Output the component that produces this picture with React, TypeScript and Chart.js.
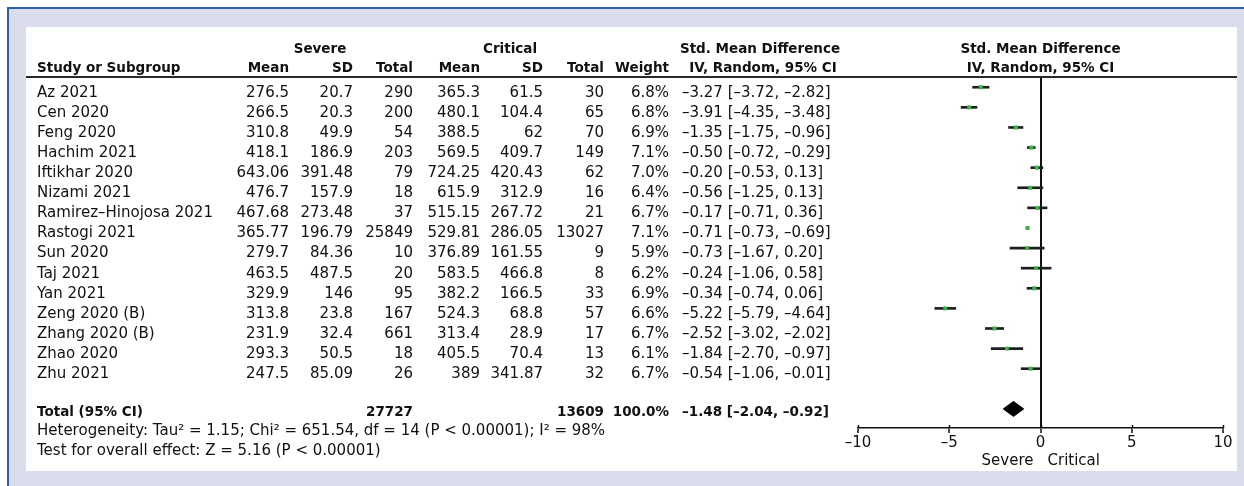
import React, { useEffect, useRef } from 'react';
import { Chart, registerables } from 'chart.js';

Chart.register(...registerables);

// ---------- data ----------
const studies = [
  'Az 2021', 'Cen 2020', 'Feng 2020', 'Hachim 2021', 'Iftikhar 2020', 'Nizami 2021',
  'Ramirez–Hinojosa 2021', 'Rastogi 2021', 'Sun 2020', 'Taj 2021', 'Yan 2021',
  'Zeng 2020 (B)', 'Zhang 2020 (B)', 'Zhao 2020', 'Zhu 2021',
];
const severeMean = [276.5, 266.5, 310.8, 418.1, 643.06, 476.7, 467.68, 365.77, 279.7, 463.5, 329.9, 313.8, 231.9, 293.3, 247.5];
const severeSD = [20.7, 20.3, 49.9, 186.9, 391.48, 157.9, 273.48, 196.79, 84.36, 487.5, 146, 23.8, 32.4, 50.5, 85.09];
const severeTotal = [290, 200, 54, 203, 79, 18, 37, 25849, 10, 20, 95, 167, 661, 18, 26];
const criticalMean = [365.3, 480.1, 388.5, 569.5, 724.25, 615.9, 515.15, 529.81, 376.89, 583.5, 382.2, 524.3, 313.4, 405.5, 389];
const criticalSD = [61.5, 104.4, 62, 409.7, 420.43, 312.9, 267.72, 286.05, 161.55, 466.8, 166.5, 68.8, 28.9, 70.4, 341.87];
const criticalTotal = [30, 65, 70, 149, 62, 16, 21, 13027, 9, 8, 33, 57, 17, 13, 32];
const weights = [6.8, 6.8, 6.9, 7.1, 7.0, 6.4, 6.7, 7.1, 5.9, 6.2, 6.9, 6.6, 6.7, 6.1, 6.7];
const smd = [-3.27, -3.91, -1.35, -0.5, -0.2, -0.56, -0.17, -0.71, -0.73, -0.24, -0.34, -5.22, -2.52, -1.84, -0.54];
const ciLow = [-3.72, -4.35, -1.75, -0.72, -0.53, -1.25, -0.71, -0.73, -1.67, -1.06, -0.74, -5.79, -3.02, -2.7, -1.06];
const ciHigh = [-2.82, -3.48, -0.96, -0.29, 0.13, 0.13, 0.36, -0.69, 0.2, 0.58, 0.06, -4.64, -2.02, -0.97, -0.01];

const totalSevere = 27727;
const totalCritical = 13609;
const totalWeight = 100.0;
const totalSmd = -1.48;
const totalLow = -2.04;
const totalHigh = -0.92;

const xTickValues = [-10, -5, 0, 5, 10];
const heterogeneityText = 'Heterogeneity: Tau² = 1.15; Chi² = 651.54, df = 14 (P < 0.00001); I² = 98%';
const overallText = 'Test for overall effect: Z = 5.16 (P < 0.00001)';

// ---------- styles ----------
const FAMILY = '"DejaVu Sans", sans-serif';
const REG = `15px ${FAMILY}`;
const BOLD = `bold 13.5px ${FAMILY}`;
const INK = '#111111';
const GREEN = '#3cb44a';
const TOTAL_ROW = studies.length + 1;

const neg = (s: string) => s.replace(/-/g, '–');
const f2 = (v: number) => neg(v.toFixed(2));
const ciText = (e: number, l: number, h: number) => `${f2(e)} [${f2(l)}, ${f2(h)}]`;

export default function App() {
  const ref = useRef<HTMLCanvasElement | null>(null);

  useEffect(() => {
    const canvas = ref.current;
    if (!canvas) return;

    const tablePlugin = {
      id: 'forestTable',
      afterDraw(chart: any) {
        const { ctx, scales } = chart;
        const xs = scales.x;
        const ys = scales.y;
        const x0 = xs.getPixelForValue(0);
        const put = (s: string, x: number, y: number, align: CanvasTextAlign, bold = false) => {
          ctx.font = bold ? BOLD : REG;
          ctx.textAlign = align;
          ctx.textBaseline = 'alphabetic';
          ctx.fillStyle = INK;
          ctx.fillText(s, x, y);
        };
        ctx.save();
        // header
        const h1 = 52.5;
        const h2 = 72;
        put('Severe', 320, h1, 'center', true);
        put('Critical', 510, h1, 'center', true);
        put('Std. Mean Difference', 760, h1, 'center', true);
        put('Std. Mean Difference', x0, h1, 'center', true);
        put('Study or Subgroup', 37, h2, 'left', true);
        put('Mean', 289, h2, 'right', true);
        put('SD', 353, h2, 'right', true);
        put('Total', 413, h2, 'right', true);
        put('Mean', 480, h2, 'right', true);
        put('SD', 543, h2, 'right', true);
        put('Total', 604, h2, 'right', true);
        put('Weight', 669, h2, 'right', true);
        put('IV, Random, 95% CI', 763, h2, 'center', true);
        put('IV, Random, 95% CI', x0, h2, 'center', true);
        // header rule
        ctx.fillStyle = '#2a2a2a';
        ctx.fillRect(26, ys.top - 1, 1211, 2);
        // rows
        studies.forEach((name, i) => {
          const y = ys.getPixelForValue(i) + 9.4;
          put(name, 37, y, 'left');
          put(String(severeMean[i]), 289, y, 'right');
          put(String(severeSD[i]), 353, y, 'right');
          put(String(severeTotal[i]), 413, y, 'right');
          put(String(criticalMean[i]), 480, y, 'right');
          put(String(criticalSD[i]), 543, y, 'right');
          put(String(criticalTotal[i]), 604, y, 'right');
          put(`${weights[i].toFixed(1)}%`, 669, y, 'right');
          put(ciText(smd[i], ciLow[i], ciHigh[i]), 682, y, 'left');
        });
        // total row
        const yt = ys.getPixelForValue(TOTAL_ROW) + 7;
        put('Total (95% CI)', 37, yt, 'left', true);
        put(String(totalSevere), 413, yt, 'right', true);
        put(String(totalCritical), 604, yt, 'right', true);
        put(`${totalWeight.toFixed(1)}%`, 669, yt, 'right', true);
        put(ciText(totalSmd, totalLow, totalHigh), 682, yt, 'left', true);
        // footnotes
        put(heterogeneityText, 37, 434.5, 'left');
        put(overallText, 37, 454.5, 'left');
        // small tick stubs above the axis line
        ctx.strokeStyle = INK;
        ctx.lineWidth = 1.5;
        xTickValues.forEach((v) => {
          const px = Math.round(xs.getPixelForValue(v)) + 0.5;
          ctx.beginPath();
          ctx.moveTo(px, ys.bottom - 3);
          ctx.lineTo(px, ys.bottom);
          ctx.stroke();
        });
        // favours labels
        put('Severe', x0 - 7, 465, 'right');
        put('Critical', x0 + 7, 465, 'left');
        ctx.restore();
      },
    };

    const diamondHalf = 0.373;
    const chart = new Chart(canvas, {
      type: 'scatter',
      data: {
        datasets: [
          {
            type: 'scatter',
            order: 0,
            data: smd.map((v, i) => ({ x: v, y: i })),
            pointStyle: 'rect',
            pointRadius: weights.map((w) => 2.9 * Math.sqrt(w / 7)),
            pointHoverRadius: weights.map((w) => 2.9 * Math.sqrt(w / 7)),
            backgroundColor: GREEN,
            borderColor: GREEN,
            borderWidth: 0,
          } as any,
          {
            type: 'bar',
            order: 1,
            indexAxis: 'y',
            data: studies.map((_, i) => ({ y: i, x: [ciLow[i], ciHigh[i]] })),
            backgroundColor: '#1e1e1e',
            borderWidth: 0,
            barThickness: 2,
            borderSkipped: false,
          } as any,
          {
            type: 'line',
            order: 2,
            data: [
              { x: totalLow, y: TOTAL_ROW },
              { x: totalSmd, y: TOTAL_ROW - diamondHalf },
              { x: totalHigh, y: TOTAL_ROW },
              { x: totalSmd, y: TOTAL_ROW + diamondHalf },
              { x: totalLow, y: TOTAL_ROW },
            ],
            fill: 'shape',
            backgroundColor: '#000',
            borderColor: '#000',
            borderWidth: 1,
            pointRadius: 0,
            tension: 0,
          } as any,
        ],
      },
      options: {
        animation: false,
        responsive: false,
        maintainAspectRatio: false,
        events: [],
        layout: { padding: { left: 858, right: 21, top: 77, bottom: 8 } },
        plugins: { legend: { display: false }, tooltip: { enabled: false } },
        scales: {
          x: {
            type: 'linear',
            position: 'bottom',
            min: -10,
            max: 10,
            offset: false,
            afterBuildTicks: (s: any) => {
              s.ticks = xTickValues.map((v) => ({ value: v }));
            },
            afterFit: (s: any) => {
              s.height = 50;
            },
            ticks: {
              autoSkip: false,
              maxRotation: 0,
              padding: 1.5,
              color: INK,
              font: { family: FAMILY, size: 15 },
              callback: (v: any) => neg(String(v)),
            },
            grid: {
              offset: false,
              drawOnChartArea: true,
              color: (c: any) => (c.tick && c.tick.value === 0 ? INK : 'rgba(0,0,0,0)'),
              lineWidth: 2,
              tickLength: 5,
              tickColor: INK,
              tickWidth: 1.5,
            },
            border: { display: true, color: INK, width: 1.5 },
          },
          y: {
            type: 'linear',
            min: -0.51,
            max: 16.95,
            reverse: true,
            offset: false,
            grid: { offset: false },
            display: false,
          },
        },
      } as any,
      plugins: [tablePlugin],
    });

    return () => chart.destroy();
  }, []);

  return (
    <div style={{ position: 'absolute', left: 0, top: 0, width: 1244, height: 486, background: '#fff', overflow: 'hidden' }}>
      <div
        style={{
          position: 'absolute', left: 7, top: 7, right: 0, bottom: 0,
          background: '#dadeec', borderLeft: '2px solid #2c60a6', borderTop: '2px solid #2c60a6',
        }}
      />
      <div style={{ position: 'absolute', left: 26, top: 27, width: 1211, height: 444, background: '#fff' }} />
      <canvas
        ref={ref}
        width={1244}
        height={486}
        style={{ position: 'absolute', left: 0, top: 0, width: 1244, height: 486 }}
      />
    </div>
  );
}
